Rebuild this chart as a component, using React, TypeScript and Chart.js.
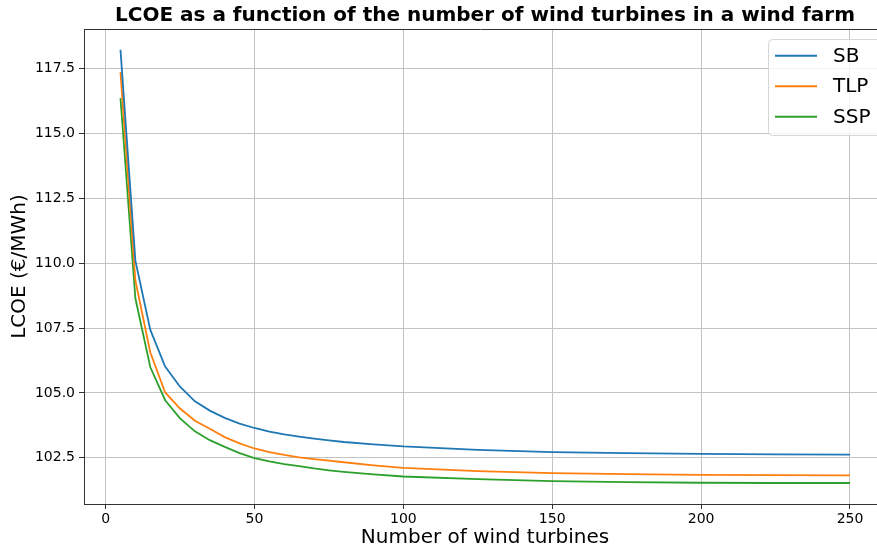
import React, { useEffect, useRef } from 'react';
import { Chart, registerables } from 'chart.js';

Chart.register(...registerables);

const TITLE = 'LCOE as a function of the number of wind turbines in a wind farm';
const X_LABEL = 'Number of wind turbines';
const Y_LABEL = 'LCOE (€/MWh)';

const TURBINES = [5, 10, 15, 20, 25, 30, 35, 40, 45, 50, 55, 60, 65, 70, 75, 80, 90, 100, 125, 150, 175, 200, 225, 250];
const SB = [118.23, 110.1, 107.44, 106.02, 105.24, 104.68, 104.32, 104.04, 103.82, 103.65, 103.51, 103.4, 103.32, 103.24, 103.17, 103.11, 103.02, 102.94, 102.81, 102.72, 102.68, 102.65, 102.63, 102.62];
const TLP = [117.37, 109.34, 106.57, 105.02, 104.4, 103.93, 103.62, 103.3, 103.06, 102.86, 102.72, 102.61, 102.52, 102.45, 102.39, 102.33, 102.21, 102.11, 101.99, 101.91, 101.87, 101.84, 101.83, 101.82];
const SSP = [116.37, 108.65, 106.0, 104.72, 104.02, 103.52, 103.18, 102.92, 102.68, 102.49, 102.36, 102.26, 102.18, 102.09, 102.02, 101.96, 101.86, 101.78, 101.68, 101.6, 101.56, 101.54, 101.53, 101.53];

const SERIES_NAMES = ['SB', 'TLP', 'SSP'];
const SERIES_VALUES = [SB, TLP, SSP];
const COLORS = ['#1f77b4', '#ff7f0e', '#2ca02c'];

const X_TICKS = [0, 50, 100, 150, 200, 250];
const Y_TICKS = [102.5, 105.0, 107.5, 110.0, 112.5, 115.0, 117.5];

const FONT = '"DejaVu Sans", "Liberation Sans", sans-serif';

const decorPlugin = {
  id: 'decor',
  afterDraw(chart: any) {
    const { ctx, chartArea: a } = chart;
    ctx.save();
    // top spine
    ctx.strokeStyle = '#333';
    ctx.lineWidth = 1;
    ctx.beginPath();
    ctx.moveTo(a.left, Math.round(a.top) + 0.5);
    ctx.lineTo(a.right, Math.round(a.top) + 0.5);
    ctx.stroke();

    // axes centre (the original axes extend slightly past the canvas edge)
    const cx = (a.left + a.right + 9) / 2;

    // title
    ctx.fillStyle = '#000';
    ctx.font = `bold 20px ${FONT}`;
    ctx.textAlign = 'center';
    ctx.textBaseline = 'middle';
    ctx.fillText(TITLE, cx, 16);

    // x axis label
    ctx.font = `20px ${FONT}`;
    ctx.fillText(X_LABEL, cx, 538);

    // legend
    const bx = 768.5, by = 39.5, bw = 120, bh = 96, r = 4;
    ctx.beginPath();
    ctx.moveTo(bx + r, by);
    ctx.lineTo(bx + bw - r, by);
    ctx.arcTo(bx + bw, by, bx + bw, by + r, r);
    ctx.lineTo(bx + bw, by + bh - r);
    ctx.arcTo(bx + bw, by + bh, bx + bw - r, by + bh, r);
    ctx.lineTo(bx + r, by + bh);
    ctx.arcTo(bx, by + bh, bx, by + bh - r, r);
    ctx.lineTo(bx, by + r);
    ctx.arcTo(bx, by, bx + r, by, r);
    ctx.closePath();
    ctx.fillStyle = 'rgba(255,255,255,0.8)';
    ctx.fill();
    ctx.strokeStyle = '#d6d6d6';
    ctx.lineWidth = 1;
    ctx.stroke();

    ctx.font = `20px ${FONT}`;
    ctx.textAlign = 'left';
    ctx.textBaseline = 'middle';
    SERIES_NAMES.forEach((name, i) => {
      const y = 55.7 + i * 30.5;
      ctx.strokeStyle = COLORS[i];
      ctx.lineWidth = 2;
      ctx.beginPath();
      ctx.moveTo(775, y);
      ctx.lineTo(817, y);
      ctx.stroke();
      ctx.fillStyle = '#000';
      ctx.fillText(name, 833, y + 1);
    });
    ctx.restore();
  },
};

export default function App() {
  const ref = useRef<HTMLCanvasElement | null>(null);

  useEffect(() => {
    if (!ref.current) return;
    const chart = new Chart(ref.current, {
      type: 'line',
      data: {
        datasets: SERIES_NAMES.map((name, i) => ({
          label: name,
          data: TURBINES.map((n, j) => ({ x: n, y: SERIES_VALUES[i][j] })),
          borderColor: COLORS[i],
          backgroundColor: COLORS[i],
          borderWidth: 1.8,
          pointRadius: 0,
          tension: 0,
          fill: false,
        })),
      },
      options: {
        animation: false,
        responsive: false,
        maintainAspectRatio: false,
        layout: { padding: { left: 0, top: 29, right: 0, bottom: 0 } },
        plugins: {
          legend: { display: false },
          title: { display: false },
          tooltip: { enabled: false },
        },
        scales: {
          x: {
            type: 'linear',
            min: -7.25,
            max: 259.07,
            afterFit: (scale: any) => {
              scale.height = 45;
            },
            afterBuildTicks: (scale: any) => {
              scale.ticks = X_TICKS.map((v) => ({ value: v }));
            },
            ticks: {
              font: { family: FONT, size: 14 },
              color: '#000',
              padding: 2,
              maxRotation: 0,
              callback: (v: any) => String(v),
            },
            grid: {
              color: '#c2c2c2',
              lineWidth: 1,
              tickLength: 5,
              tickColor: '#333',
            },
            border: { color: '#333', width: 1 },
            title: { display: false },
          },
          y: {
            type: 'linear',
            min: 100.72,
            max: 119.03,
            afterFit: (scale: any) => {
              scale.width = 84;
            },
            afterBuildTicks: (scale: any) => {
              scale.ticks = Y_TICKS.map((v) => ({ value: v }));
            },
            ticks: {
              font: { family: FONT, size: 14 },
              color: '#000',
              padding: 4,
              callback: (v: any) => Number(v).toFixed(1),
            },
            grid: {
              color: '#c2c2c2',
              lineWidth: 1,
              tickLength: 5,
              tickColor: '#333',
            },
            border: { color: '#333', width: 1 },
            title: {
              display: true,
              text: Y_LABEL,
              font: { family: FONT, size: 20 },
              color: '#000',
              padding: { top: 8, bottom: 0 },
            },
          },
        },
      },
      plugins: [decorPlugin],
    } as any);
    return () => chart.destroy();
  }, []);

  return (
    <div style={{ position: 'absolute', left: 0, top: 0, width: 877, height: 549, background: '#fff' }}>
      <canvas ref={ref} width={877} height={549} style={{ display: 'block' }} />
    </div>
  );
}
